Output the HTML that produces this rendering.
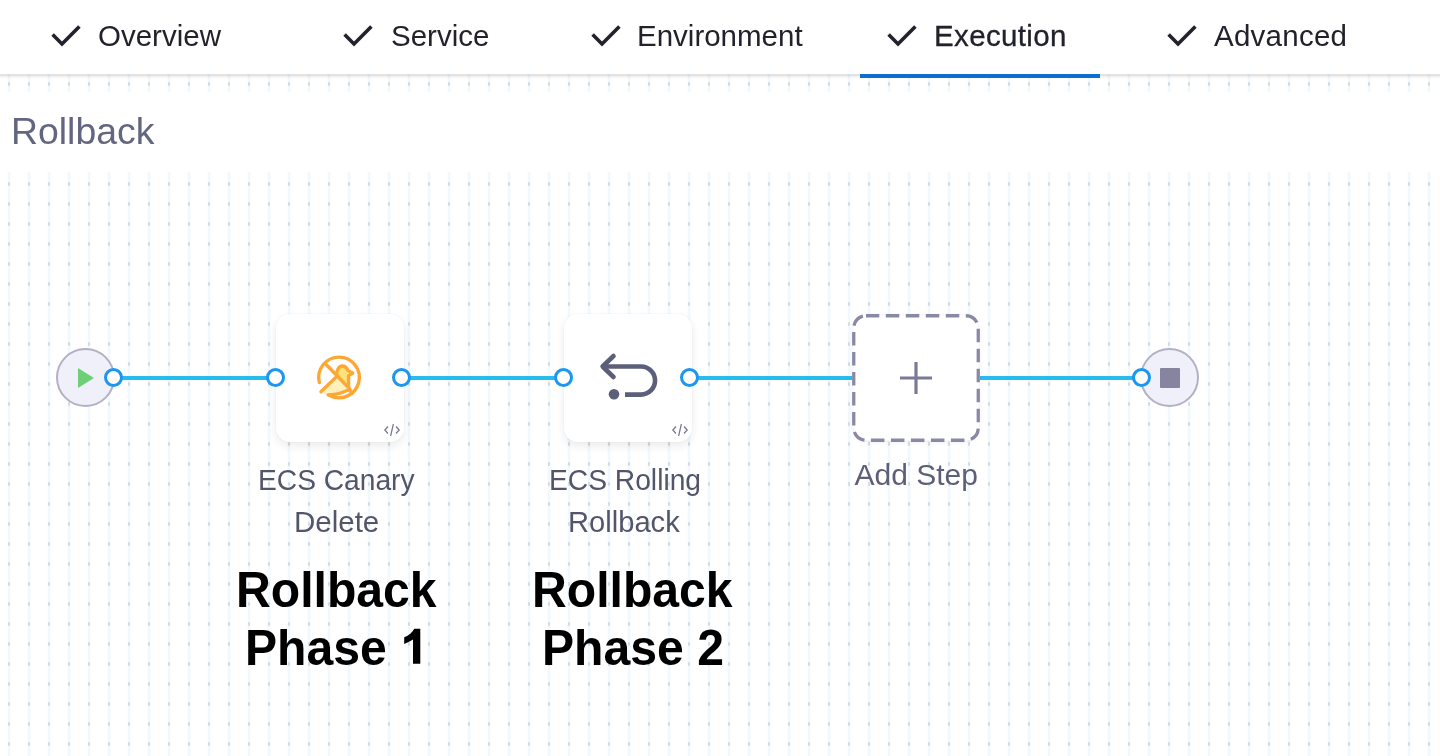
<!DOCTYPE html>
<html>
<head>
<meta charset="utf-8">
<style>
html,body{margin:0;padding:0;}
body{width:1440px;height:756px;overflow:hidden;position:relative;background:#fff;font-family:"Liberation Sans",sans-serif;}
.abs{position:absolute;}
#grid{position:absolute;left:0;top:0;width:1440px;height:756px;mix-blend-mode:multiply;}
#header{position:absolute;left:0;top:0;width:1440px;height:74px;background:#fff;}
#hline{position:absolute;left:0;top:74px;width:1440px;height:2px;background:#e3e3e3;}
#hshadow{position:absolute;left:0;top:76px;width:1440px;height:3px;background:linear-gradient(#efefef,rgba(255,255,255,0));}
#uline{position:absolute;left:860px;top:74px;width:240px;height:4px;background:#0a6fcf;}
.tab{position:absolute;top:19.4px;font-size:29.5px;color:#22222c;white-space:nowrap;line-height:34px;}
.chk{position:absolute;top:24px;width:30px;height:24px;}
#titlebar{position:absolute;left:0;top:92px;width:1440px;height:80px;background:#fff;}
#title{position:absolute;left:11px;top:110px;font-size:37.4px;color:#62667f;line-height:42px;white-space:nowrap;}
.line{position:absolute;top:376px;height:4px;background:#28bcee;}
.port{position:absolute;width:13px;height:13px;border:3.5px solid #1c97ef;border-radius:50%;background:#fff;}
.card{position:absolute;top:314px;width:128px;height:128px;background:#fff;border-radius:14px;box-shadow:0 4px 9px rgba(30,30,50,0.085),0 0 2px rgba(30,30,50,0.05);}
.lbl{position:absolute;font-size:30px;color:#53566b;line-height:34px;white-space:nowrap;transform-origin:0 0;}
.big{position:absolute;font-size:49px;font-weight:bold;color:#000;line-height:56px;white-space:nowrap;transform-origin:0 0;transform:scale(0.982,1.025);}
.circ{position:absolute;width:55px;height:55px;border-radius:50%;background:#f0f0fa;border:2px solid #b3b0c6;}
</style>
</head>
<body>


<div id="header"></div>
<div id="hline"></div>
<div id="hshadow"></div>
<svg id="grid" width="1440" height="756">
  <defs>
    <pattern id="gp" x="0" y="0" width="20" height="20" patternUnits="userSpaceOnUse">
      <rect x="7.6" y="0" width="2.8" height="20" fill="#f1f9fe"/>
      <rect x="8" y="2.25" width="2" height="3.5" fill="#d5dbdf"/>
    </pattern>
  </defs>
  <rect x="0" y="74" width="1440" height="682" fill="url(#gp)"/>
</svg>
<div id="uline"></div>

<!-- tabs -->
<svg class="chk" style="left:51px" viewBox="0 0 30 24"><path d="M1.6 10.6 L11 20 L28.4 2.6" fill="none" stroke="#22222c" stroke-width="3.6" stroke-linecap="butt" stroke-linejoin="miter"/></svg>
<div class="tab" style="left:98px">Overview</div>
<svg class="chk" style="left:343px" viewBox="0 0 30 24"><path d="M1.6 10.6 L11 20 L28.4 2.6" fill="none" stroke="#22222c" stroke-width="3.6" stroke-linecap="butt" stroke-linejoin="miter"/></svg>
<div class="tab" style="left:391px">Service</div>
<svg class="chk" style="left:591px" viewBox="0 0 30 24"><path d="M1.6 10.6 L11 20 L28.4 2.6" fill="none" stroke="#22222c" stroke-width="3.6" stroke-linecap="butt" stroke-linejoin="miter"/></svg>
<div class="tab" style="left:637px">Environment</div>
<svg class="chk" style="left:887px" viewBox="0 0 30 24"><path d="M1.6 10.6 L11 20 L28.4 2.6" fill="none" stroke="#22222c" stroke-width="3.6" stroke-linecap="butt" stroke-linejoin="miter"/></svg>
<div class="tab" style="left:934px;-webkit-text-stroke:0.3px #22222c;letter-spacing:0.35px">Execution</div>
<svg class="chk" style="left:1167px" viewBox="0 0 30 24"><path d="M1.6 10.6 L11 20 L28.4 2.6" fill="none" stroke="#22222c" stroke-width="3.6" stroke-linecap="butt" stroke-linejoin="miter"/></svg>
<div class="tab" style="left:1214px;letter-spacing:0.25px">Advanced</div>

<div id="titlebar"></div>
<div id="title">Rollback</div>

<!-- lines -->
<div class="line" style="left:114px;width:162px"></div>
<div class="line" style="left:402px;width:162px"></div>
<div class="line" style="left:690px;width:162px"></div>
<div class="line" style="left:980px;width:162px"></div>

<!-- start -->
<div class="circ" style="left:56px;top:348px"></div>
<div class="port" style="left:103.6px;top:368.0px"></div>
<svg class="abs" style="left:77px;top:367px" width="18" height="22" viewBox="0 0 18 22"><path d="M1 1 L17 11 L1 21 Z" fill="#6fcf77"/></svg>

<!-- card 1 -->
<div class="card" style="left:276px"></div>
<svg class="abs" style="left:314px;top:353px" width="52" height="52" viewBox="0 0 52 52">
  <path d="M23 19.5 C24 15.5 26.5 14 29.5 14.5 C32 15 33 18 33.5 20.5 L34.6 22.6 L34.6 31 L22.5 22.5 Z" fill="#ffe27a"/>
  <path d="M9 39.5 L22.5 25.5 L27 27.5 L33.5 33.5 L35 37 Q30 39 27 40 Q22 42 14 42 Z" fill="#fff0bd"/>
  <path d="M5.4 29.6 A20.3 20.3 0 1 1 15.2 42.2" fill="none" stroke="#ffa733" stroke-width="3.4" stroke-linecap="round"/>
  <path d="M12.4 11.8 L33.5 33.5" fill="none" stroke="#ffa733" stroke-width="3.4" stroke-linecap="round"/>
  <path d="M7 38.8 L22.6 23.6 C22.3 17.5 24.8 13 28.2 13 C31 13 33 15 34 17.8 L38.8 20 L34.6 22.6 L34.6 33 C34.6 36.5 36 38.5 38.5 40" fill="none" stroke="#ffa733" stroke-width="3.4" stroke-linecap="round" stroke-linejoin="round"/>
  <path d="M14 41.8 Q23 41.8 28 39.6 Q31.5 38 36 36.5" fill="none" stroke="#ffa733" stroke-width="3.3" stroke-linecap="round"/>
</svg>
<svg class="abs" style="left:383px;top:423px" width="18" height="14" viewBox="0 0 18 14"><path d="M5 3.5 L1.8 7 L5 10.5 M13 3.5 L16.2 7 L13 10.5 M10.4 1 L7.6 13" fill="none" stroke="#74768f" stroke-width="1.2"/></svg>
<div class="port" style="left:265.8px;top:368.0px"></div>
<div class="port" style="left:392.0px;top:368.0px"></div>

<!-- card 2 -->
<div class="card" style="left:564px"></div>
<svg class="abs" style="left:595px;top:345px" width="70" height="60" viewBox="0 0 70 60">
  <path d="M18.5 11 L7.6 21.5 L18.5 32" fill="none" stroke="#5c5f7a" stroke-width="4.6" stroke-linecap="round" stroke-linejoin="round"/>
  <path d="M8 21.5 H46 A14.05 14.05 0 0 1 46 49.6 H30" fill="none" stroke="#5c5f7a" stroke-width="4.6"/>
  <circle cx="19" cy="49.3" r="5.3" fill="#5c5f7a"/>
</svg>
<svg class="abs" style="left:671px;top:423px" width="18" height="14" viewBox="0 0 18 14"><path d="M5 3.5 L1.8 7 L5 10.5 M13 3.5 L16.2 7 L13 10.5 M10.4 1 L7.6 13" fill="none" stroke="#74768f" stroke-width="1.2"/></svg>
<div class="port" style="left:553.7px;top:368.0px"></div>
<div class="port" style="left:680.0px;top:368.0px"></div>

<!-- add step -->
<svg class="abs" style="left:846px;top:308px" width="140" height="140" viewBox="0 0 140 140">
  <defs><filter id="sh" x="-20%" y="-20%" width="140%" height="140%"><feDropShadow dx="0" dy="1" stdDeviation="2.5" flood-color="#28283c" flood-opacity="0.10"/></filter></defs>
  <rect x="7.75" y="7.75" width="124.5" height="124.5" rx="14" fill="#fff" filter="url(#sh)"/>
  <rect x="7.75" y="7.75" width="124.5" height="124.5" rx="12.25" fill="none" stroke="#8a89a5" stroke-width="3.3" stroke-dasharray="13.5 6.5" stroke-dashoffset="0.2"/>
  <path d="M70 54 V86 M54 70 H86" stroke="#7a7a96" stroke-width="3.2"/>
</svg>

<!-- end -->
<div class="circ" style="left:1140px;top:348px"></div>
<div class="abs" style="left:1160px;top:368px;width:20px;height:20px;background:#86849f;border-radius:1px"></div>
<div class="port" style="left:1131.8px;top:367.6px"></div>

<!-- labels -->
<div class="lbl" style="left:258.1px;top:462.5px;transform:scaleX(0.939)">ECS Canary</div>
<div class="lbl" style="left:293.6px;top:505px;transform:scaleX(0.983)">Delete</div>
<div class="lbl" style="left:548.9px;top:462.5px;transform:scaleX(0.94)">ECS Rolling</div>
<div class="lbl" style="left:568.4px;top:505px;transform:scaleX(0.971)">Rollback</div>
<div class="lbl" style="left:854.5px;top:458.4px;color:#5d5f78">Add Step</div>

<div class="big" style="left:235.6px;top:560.5px">Rollback</div>
<div class="big" style="left:245.4px;top:618.5px">Phase</div>
<svg class="abs" style="left:400px;top:625px" width="24" height="42" viewBox="400 625 24 42"><path d="M420.3 628.8 V663.7 H413 V639.6 Q409 642.2 404.2 643.9 V637.3 Q407.6 636.1 410.3 633.8 Q413 631.6 414.2 628.8 Z" fill="#000"/></svg>
<div class="big" style="left:531.8px;top:560.5px">Rollback</div>
<div class="big" style="left:541.6px;top:618.5px">Phase 2</div>
</body>
</html>
